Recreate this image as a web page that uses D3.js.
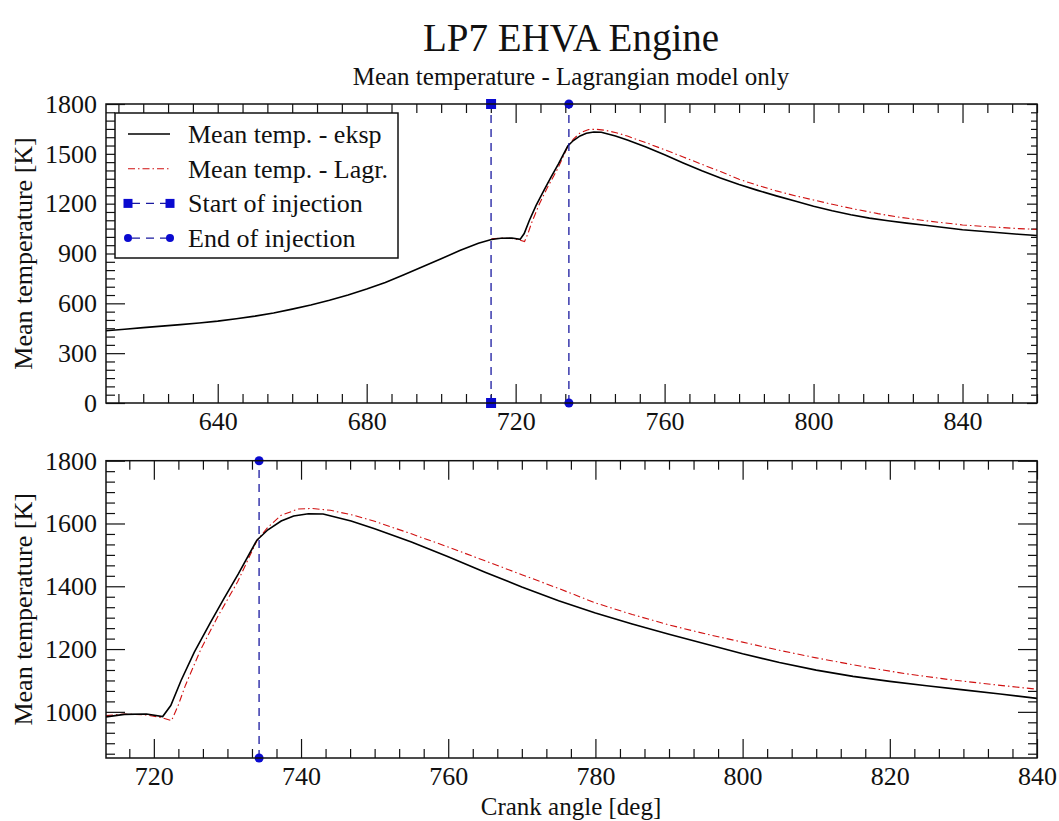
<!DOCTYPE html>
<html>
<head>
<meta charset="utf-8">
<script src="https://cdn.jsdelivr.net/npm/d3@7"></script>
<style>
  body { margin: 0; background: #fff; }
  .axis path.domain { display: none; }
  .axis line { stroke: #111; stroke-width: 1.2; }
</style>
</head>
<body>
<div id="chart"></div>
<script>
// measured series: [crank angle, mean temperature]
const ekspData = [
  [610, 435], [615, 444], [620, 454], [625, 463], [630, 472], [635, 482], [640, 493],
  [645, 507], [650, 523], [655, 542], [660, 565], [665, 590], [670, 618], [675, 650],
  [680, 686], [685, 726], [690, 772], [695, 820], [700, 868], [705, 918], [710, 962],
  [713.5, 984], [716, 992], [719, 993], [721.2, 985], [722.3, 1020], [723.7, 1100],
  [725.5, 1190], [727.7, 1285], [729.5, 1360], [731.5, 1440], [734, 1547], [735.5, 1580],
  [737.3, 1608], [739, 1624], [741, 1631], [743, 1630], [746.8, 1608], [750, 1583],
  [755, 1541], [760, 1494], [765, 1445], [770, 1398], [775, 1354], [780, 1315],
  [785, 1280], [790, 1247], [795, 1216], [800, 1185], [805, 1157], [810, 1133],
  [815, 1113], [820, 1097], [825, 1083], [830, 1070], [835, 1057], [840, 1043],
  [845, 1034], [850, 1025], [855, 1016], [860, 1008]
];
// Lagrangian model series
const lagrData = [
  [713.5, 988], [716, 993], [719, 990], [721, 982], [722.4, 972], [723.3, 1020],
  [724.3, 1085], [726.4, 1200], [728.6, 1300], [731.4, 1415], [734, 1545], [735.5, 1588],
  [737.3, 1626], [739.6, 1646], [741.5, 1648], [744, 1642], [747, 1627], [750, 1607],
  [755, 1567], [760, 1525], [765, 1481], [770, 1437], [775, 1393], [780, 1347],
  [785, 1310], [790, 1277], [795, 1248], [800, 1222], [805, 1196], [810, 1172],
  [817.3, 1140], [822, 1122], [828, 1103], [834, 1087], [840, 1072], [845, 1064],
  [850, 1057], [855, 1050], [860, 1045]
];
const startInjection = 713.4;
const endInjection = 734.3;

const topXTicks = [640, 680, 720, 760, 800, 840];
const topYTicks = [0, 300, 600, 900, 1200, 1500, 1800];
const botXTicks = [720, 740, 760, 780, 800, 820, 840];
const botYTicks = [1000, 1200, 1400, 1600, 1800];

const legendLabels = ['Mean temp. - eksp', 'Mean temp. - Lagr.', 'Start of injection', 'End of injection'];

const W = 1059, H = 821;
const blue = '#0a0ad0';
const serif = '"Liberation Serif", Tinos, "Times New Roman", "DejaVu Serif", serif';

const svg = d3.select('#chart').append('svg')
  .attr('width', W).attr('height', H)
  .attr('font-family', serif)
  .style('font-family', serif);

svg.append('text')
  .attr('x', 571).attr('y', 51)
  .attr('text-anchor', 'middle')
  .attr('fill', '#111')
  .style('font-size', '39px')
  .text('LP7 EHVA Engine');

svg.append('text')
  .attr('x', 571).attr('y', 85)
  .attr('text-anchor', 'middle')
  .attr('fill', '#111')
  .style('font-size', '25px')
  .text('Mean temperature - Lagrangian model only');

// minor tick helper
function minorTicks(domain, step, majors) {
  const out = [];
  const start = Math.ceil(domain[0] / step - 1e-6);
  for (let k = start; k * step <= domain[1] + 1e-6; k++) {
    const v = k * step;
    if (!majors.some(m => Math.abs(m - v) < 1e-6)) out.push(v);
  }
  return out;
}

function styleLabels(a) {
  a.attr('font-family', null).attr('font-size', null);
  a.selectAll('text').style('font-size', '26px').style('font-family', serif).attr('fill', '#111');
}

function panel(opt) {
  const { left, top, width, height, xDomain, yDomain, xMajor, xStep, yMajor, yStep, id } = opt;
  const g = svg.append('g').attr('transform', 'translate(' + left + ',' + top + ')');

  const x = d3.scaleLinear().domain(xDomain).range([0, width]);
  const y = d3.scaleLinear().domain(yDomain).range([height, 0]);

  const xMinor = minorTicks(xDomain, xStep, xMajor);
  const yMinor = minorTicks(yDomain, yStep, yMajor);
  const rightMaj = opt.rightMaj || 19, rightMin = opt.rightMin || 9;

  // bottom
  g.append('g').attr('class', 'axis').attr('transform', 'translate(0,' + height + ')')
    .call(d3.axisBottom(x).tickValues(xMajor).tickSize(-19).tickSizeOuter(0).tickPadding(9).tickFormat(d3.format('d')))
    .call(styleLabels);
  g.append('g').attr('class', 'axis').attr('transform', 'translate(0,' + height + ')')
    .call(d3.axisBottom(x).tickValues(xMinor).tickSize(-9).tickSizeOuter(0).tickFormat(''));
  // top
  g.append('g').attr('class', 'axis')
    .call(d3.axisTop(x).tickValues(xMajor).tickSize(-19).tickSizeOuter(0).tickFormat(''));
  g.append('g').attr('class', 'axis')
    .call(d3.axisTop(x).tickValues(xMinor).tickSize(-9).tickSizeOuter(0).tickFormat(''));
  // left
  g.append('g').attr('class', 'axis')
    .call(d3.axisLeft(y).tickValues(yMajor).tickSize(-19).tickSizeOuter(0).tickPadding(9).tickFormat(d3.format('d')))
    .call(styleLabels);
  g.append('g').attr('class', 'axis')
    .call(d3.axisLeft(y).tickValues(yMinor).tickSize(-9).tickSizeOuter(0).tickFormat(''));
  // right
  g.append('g').attr('class', 'axis').attr('transform', 'translate(' + width + ',0)')
    .call(d3.axisRight(y).tickValues(yMajor).tickSize(-rightMaj).tickSizeOuter(0).tickFormat(''));
  g.append('g').attr('class', 'axis').attr('transform', 'translate(' + width + ',0)')
    .call(d3.axisRight(y).tickValues(yMinor).tickSize(-rightMin).tickSizeOuter(0).tickFormat(''));

  g.append('clipPath').attr('id', 'clip-' + id)
    .append('rect').attr('width', width).attr('height', height);
  const plot = g.append('g').attr('clip-path', 'url(#clip-' + id + ')');

  const line = d3.line().x(d => x(d[0])).y(d => y(d[1]));

  plot.append('path').datum(lagrData)
    .attr('fill', 'none').attr('stroke', '#d01010').attr('stroke-width', 1.1)
    .attr('stroke-dasharray', '7,3,1.5,3')
    .attr('d', line);
  plot.append('path').datum(ekspData)
    .attr('fill', 'none').attr('stroke', '#000').attr('stroke-width', 1.6)
    .attr('d', line);

  // injection markers
  opt.injections.forEach(inj => {
    const pts = [[inj.at, yDomain[0]], [inj.at, yDomain[1]]];
    g.append('path').datum(pts)
      .attr('fill', 'none').attr('stroke', '#1a1aa0').attr('stroke-width', 1.3)
      .attr('stroke-dasharray', '8,6')
      .attr('d', line);
    pts.forEach(p => {
      if (inj.symbol === 'square') {
        g.append('rect')
          .attr('x', x(p[0]) - 5).attr('y', y(p[1]) - 5)
          .attr('width', 10).attr('height', 10).attr('fill', blue);
      } else {
        g.append('circle')
          .attr('cx', x(p[0])).attr('cy', y(p[1])).attr('r', 4.5).attr('fill', blue);
      }
    });
  });

  g.append('rect').attr('width', width).attr('height', height)
    .attr('fill', 'none').attr('stroke', '#111').attr('stroke-width', 1.5);

  g.append('text')
    .attr('transform', 'translate(' + (32 - left) + ',' + (height / 2) + ') rotate(-90)')
    .attr('text-anchor', 'middle')
    .attr('fill', '#111')
    .style('font-size', '26px')
    .text('Mean temperature [K]');

  return { g, x, y };
}

const p1 = panel({
  id: 'top', left: 106, top: 104, width: 931, height: 299,
  xDomain: [610, 860], yDomain: [0, 1800],
  xMajor: topXTicks, xStep: 40 / 6, yMajor: topYTicks, yStep: 50,
  rightMaj: 10, rightMin: 6,
  injections: [{ at: startInjection, symbol: 'square' }, { at: endInjection, symbol: 'circle' }]
});

const p2 = panel({
  id: 'bot', left: 106, top: 460.7, width: 931, height: 297.3,
  xDomain: [713.5, 840], yDomain: [853, 1800],
  xMajor: botXTicks, xStep: 20 / 6, yMajor: botYTicks, yStep: 200 / 6,
  injections: [{ at: endInjection, symbol: 'circle' }]
});

svg.append('text')
  .attr('x', 571).attr('y', 815)
  .attr('text-anchor', 'middle')
  .attr('fill', '#111')
  .style('font-size', '25px')
  .text('Crank angle [deg]');

// legend
const legend = svg.append('g').attr('class', 'legend').attr('transform', 'translate(115,113)');
legend.append('rect').attr('width', 283).attr('height', 145)
  .attr('fill', '#fff').attr('stroke', '#111').attr('stroke-width', 1.5);

const rowY = d => 21 + d * 34.7;
const items = legend.selectAll('g.item').data(legendLabels).enter()
  .append('g').attr('class', 'item')
  .attr('transform', (d, i) => 'translate(0,' + rowY(i) + ')');

items.append('text')
  .attr('x', 73).attr('y', 9)
  .attr('fill', '#111')
  .style('font-size', '26px')
  .text(d => d);

items.each(function (d, i) {
  const it = d3.select(this);
  if (i === 0) {
    it.append('line').attr('x1', 13).attr('x2', 55).attr('stroke', '#000').attr('stroke-width', 1.6);
  } else if (i === 1) {
    it.append('line').attr('x1', 13).attr('x2', 55).attr('stroke', '#d01010').attr('stroke-width', 1.1)
      .attr('stroke-dasharray', '7,3,1.5,3');
  } else {
    it.append('line').attr('x1', 13).attr('x2', 55).attr('stroke', '#1a1aa0').attr('stroke-width', 1.3)
      .attr('stroke-dasharray', '8,6').attr('stroke-dashoffset', -4);
    [13, 55].forEach(cx => {
      if (i === 2) {
        it.append('rect').attr('x', cx - 4.5).attr('y', -4.5).attr('width', 9).attr('height', 9).attr('fill', blue);
      } else {
        it.append('circle').attr('cx', cx).attr('cy', 0).attr('r', 4).attr('fill', blue);
      }
    });
  }
});
</script>
</body>
</html>
